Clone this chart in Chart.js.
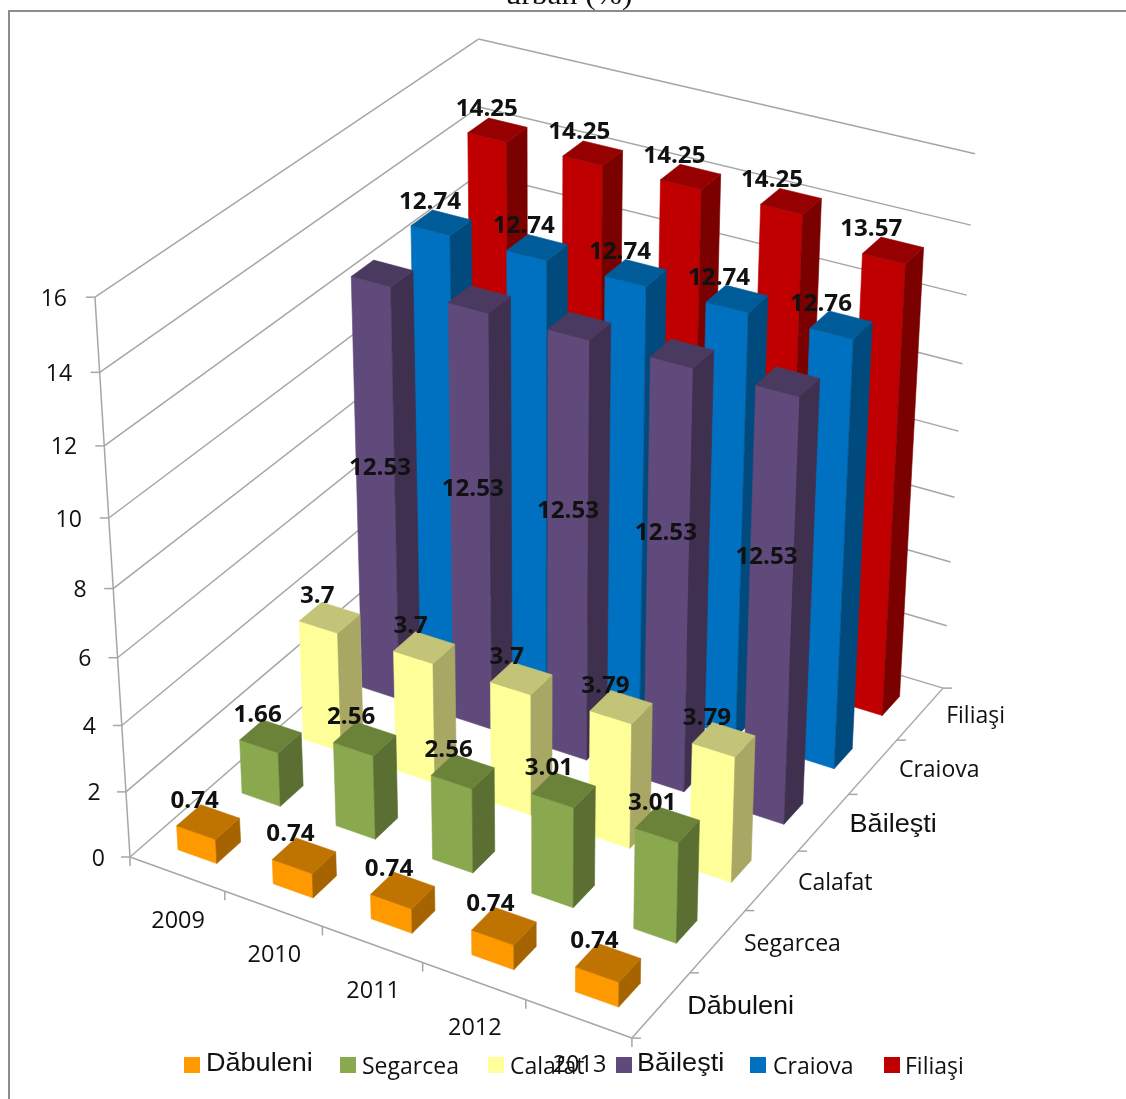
<!DOCTYPE html>
<html>
<head>
<meta charset="utf-8">
<style>
  html, body { margin: 0; padding: 0; background: #fff; overflow: hidden; }
  canvas { display: block; }
</style>
<script src="https://cdn.jsdelivr.net/npm/chart.js@4"></script>
</head>
<body>
<canvas id="chart" width="1126" height="1099"></canvas>
<script>
const years = ["2009", "2010", "2011", "2012", "2013"];
const seriesNames = ["Dăbuleni", "Segarcea", "Calafat", "Băileşti", "Craiova", "Filiaşi"];

const dabuleni = [0.74, 0.74, 0.74, 0.74, 0.74];
const segarcea = [1.66, 2.56, 2.56, 3.01, 3.01];
const calafat = [3.7, 3.7, 3.7, 3.79, 3.79];
const bailesti = [12.53, 12.53, 12.53, 12.53, 12.53];
const craiova = [12.74, 12.74, 12.74, 12.74, 12.76];
const filiasi = [14.25, 14.25, 14.25, 14.25, 13.57];
const seriesValues = [dabuleni, segarcea, calafat, bailesti, craiova, filiasi];

const frontColors = ["#FF9900", "#8AA84E", "#FFFF99", "#604A7B", "#0070C0", "#C00000"];
const sideColors = ["#A66400", "#5B6F33", "#A8A864", "#3F3050", "#004A7E", "#7B0000"];
const topColors = ["#BF7300", "#6B8339", "#C4C478", "#4A3A60", "#005C98", "#960000"];

// the two names that came out in another font in the original
const arialNames = ["Dăbuleni", "Băileşti"];
const legendSwatchX = [184, 340, 488, 616, 750, 884];
const legendTextX = [206, 362, 510, 637, 773, 905];

// camera: homography from (year, series, value), each 0..1, to the page
const camera = {
  u: [459.2, 110.9, -0.0676],
  v: [418.6, -232.5, 0.1363],
  w: [-42.5, -583.2, -0.0787],
  o: [130, 857, 1],
};
const barWidth = 0.41; // share of a year band
const barDepth = 0.37; // share of a series band

const tickFont = "23px 'Open Sans'";
const nameFont = "26px 'Liberation Sans'";
const valueFont = "bold 23px 'Open Sans'";

const project = (u, v, w) => {
  const c = camera;
  const x = c.o[0] + u * c.u[0] + v * c.v[0] + w * c.w[0];
  const y = c.o[1] + u * c.u[1] + v * c.v[1] + w * c.w[1];
  const h = c.o[2] + u * c.u[2] + v * c.v[2] + w * c.w[2];
  return [x / h, y / h];
};

const poly = (ctx, pts, color) => {
  ctx.beginPath();
  pts.forEach((p, i) => (i ? ctx.lineTo(p[0], p[1]) : ctx.moveTo(p[0], p[1])));
  ctx.closePath();
  ctx.fillStyle = color;
  ctx.strokeStyle = color;
  ctx.lineWidth = 0.6;
  ctx.fill();
  ctx.stroke();
};

const line = (ctx, a, b) => {
  ctx.beginPath();
  ctx.moveTo(a[0], a[1]);
  ctx.lineTo(b[0], b[1]);
  ctx.stroke();
};

// the picture was stretched sideways, so text gets a scaleX too
const text = (ctx, str, x, y, font, stretch, align) => {
  ctx.save();
  ctx.font = font;
  ctx.fillStyle = "#111";
  ctx.textBaseline = "middle";
  ctx.textAlign = align || "center";
  ctx.translate(x, y);
  ctx.scale(stretch, 1);
  ctx.fillText(str, 0, 0);
  ctx.restore();
};

const plotBars3d = {
  id: "plotBars3d",
  beforeDatasetsDraw(chart) {
    const { ctx, scales } = chart;
    const sx = scales.x, sz = scales.z, sy = scales.y;
    const toU = (i) => (sx.getPixelForValue(i) - sx.left) / sx.width;
    const toV = (j) => (sz.getPixelForValue(j) - sz.left) / sz.width;
    const toW = (val) => (sy.bottom - sy.getPixelForValue(val)) / sy.height;
    const bandU = 1 / years.length, bandV = 1 / seriesNames.length;
    const du = 0.4 * bandU / 2;
    const dv = 0.4 * bandV / 2;

    ctx.save();
    // frame
    ctx.strokeStyle = "#8c8c8c";
    ctx.lineWidth = 2;
    ctx.beginPath();
    ctx.moveTo(9, 1099);
    ctx.lineTo(9, 11);
    ctx.lineTo(1126, 11);
    ctx.stroke();

    text(ctx, "urban (%)", 569, -4, "30px 'Liberation Serif'", 1.05);

    // walls
    ctx.strokeStyle = "#a6a6a6";
    ctx.lineWidth = 1.5;
    sy.ticks.forEach((t) => {
      const w = toW(t.value);
      const a = project(0, 0, w), d = project(0, 1, w), c = project(1, 1, w);
      line(ctx, a, d);
      line(ctx, d, c);
    });
    line(ctx, project(0, 0, 0), project(0, 0, 1));
    line(ctx, project(0, 0, 0), project(1, 0, 0));
    line(ctx, project(1, 0, 0), project(1, 1, 0));

    // ticks and tick labels
    sy.ticks.forEach((t) => {
      const w = toW(t.value);
      const p = project(0, 0, w);
      line(ctx, p, [p[0] - 9, p[1]]);
      text(ctx, t.label, p[0] - 25 - 3 * w, p[1] + 2, tickFont, 1, "right");
    });
    for (let i = 0; i <= years.length; i++) {
      const p = project(i * bandU, 0, 0);
      line(ctx, p, [p[0], p[1] + 9]);
    }
    for (let j = 0; j <= seriesNames.length; j++) {
      const p = project(1, j * bandV, 0);
      line(ctx, p, [p[0] + 9, p[1]]);
    }
    years.forEach((y, i) => {
      const p = project(toU(i), 0, 0);
      text(ctx, y, p[0] + 1, p[1] + 47, tickFont, 1.02);
    });
    seriesNames.forEach((name, j) => {
      const p = project(1, toV(j), 0);
      if (arialNames.includes(name)) text(ctx, name, p[0] + 26, p[1] + 2, nameFont, 1.04, "left");
      else text(ctx, name, p[0] + 26, p[1] + 3, tickFont, 1.0, "left");
    });

    // bars, back row first
    for (let j = seriesNames.length - 1; j >= 0; j--) {
      seriesValues[j].forEach((val, i) => {
        const u0 = toU(i) - du, u1 = u0 + barWidth * bandU;
        const v0 = toV(j) - dv, v1 = v0 + barDepth * bandV;
        const w = toW(val);
        poly(ctx, [project(u0, v0, 0), project(u1, v0, 0), project(u1, v0, w), project(u0, v0, w)], frontColors[j]);
        poly(ctx, [project(u1, v0, 0), project(u1, v1, 0), project(u1, v1, w), project(u1, v0, w)], sideColors[j]);
        poly(ctx, [project(u0, v0, w), project(u1, v0, w), project(u1, v1, w), project(u0, v1, w)], topColors[j]);
      });
    }

    // value labels sit on top of everything
    seriesValues.forEach((vals, j) => {
      vals.forEach((val, i) => {
        // Băileşti labels are in the middle of the bar, the others above it
        const mid = seriesNames[j] === "Băileşti";
        const p = project(toU(i), toV(j), mid ? toW(val) / 2 : toW(val));
        // the original's labels drift from the bar centres as year and series grow
        const dx = -14 + j * 0.6 - i * j * 0.55 + (mid ? 5 : 0);
        const dy = mid ? -16 - 7 * i + 1 : -20;
        text(ctx, String(val), p[0] + dx, p[1] + dy, valueFont, 1.05);
      });
    });

    // legend
    seriesNames.forEach((name, j) => {
      ctx.fillStyle = frontColors[j];
      ctx.fillRect(legendSwatchX[j], 1057, 16, 16);
      if (arialNames.includes(name)) text(ctx, name, legendTextX[j], 1064, nameFont, 1.04, "left");
      else text(ctx, name, legendTextX[j], 1067, tickFont, 1.0, "left");
    });
    ctx.restore();
    return false;
  },
};

const chart = new Chart(document.getElementById("chart"), {
  type: "bar",
  plugins: [plotBars3d],
  data: {
    labels: years,
    datasets: seriesNames.map((name, j) => ({
      label: name,
      data: seriesValues[j],
      backgroundColor: frontColors[j],
    })),
  },
  options: {
    responsive: false,
    animation: false,
    plugins: {
      legend: { display: false },
      title: { display: false },
      tooltip: { enabled: false },
    },
    scales: {
      x: { type: "category", display: false, offset: true },
      z: { type: "category", axis: "x", labels: seriesNames, display: false, offset: true },
      y: { type: "linear", display: false, min: 0, max: 16, ticks: { stepSize: 2 } },
    },
  },
});
</script>
</body>
</html>
